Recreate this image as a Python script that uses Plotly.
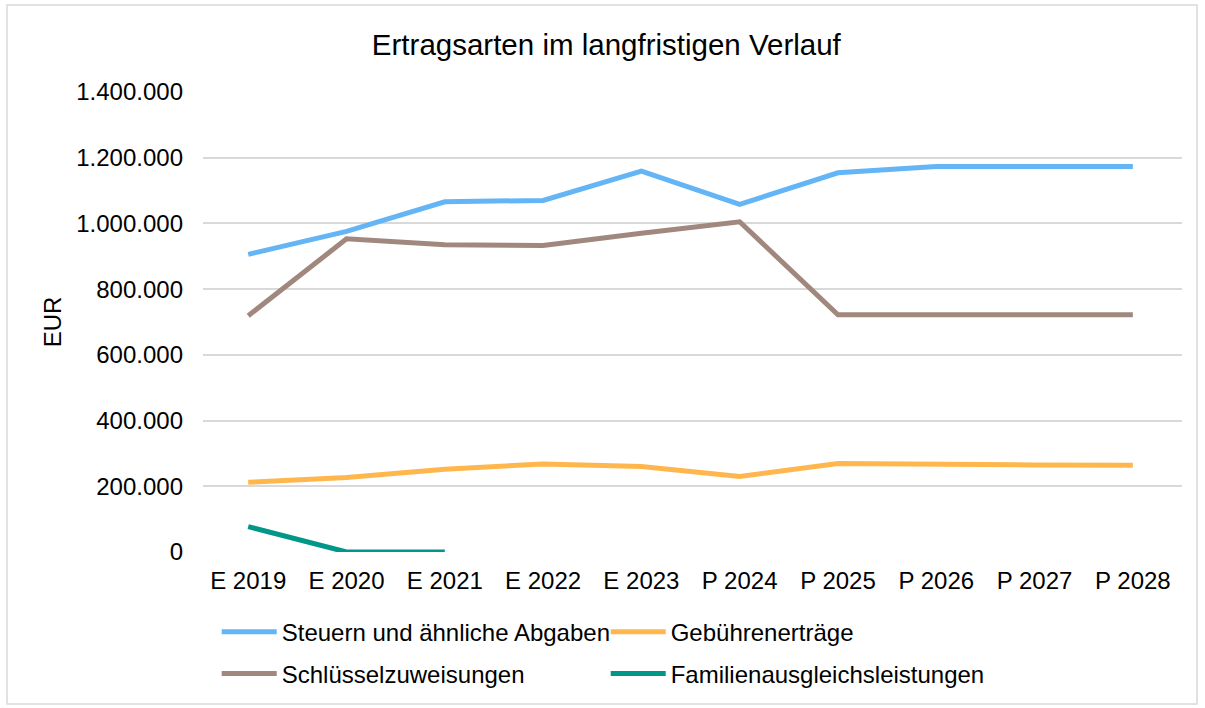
import plotly.graph_objects as go

categories = ["E 2019", "E 2020", "E 2021", "E 2022", "E 2023",
              "P 2024", "P 2025", "P 2026", "P 2027", "P 2028"]
steuern = [906000, 976000, 1066000, 1070000, 1159000, 1058000, 1154000, 1173000, 1173000, 1173000]
gebuehren = [212000, 227000, 252000, 268000, 260000, 230000, 269000, 266000, 265000, 264000]
schluessel = [719000, 953000, 935000, 933000, 970000, 1005000, 722000, 722000, 722000, 722000]
familien = [77000, 0, 0, None, None, None, None, None, None, None]

FONT = "Liberation Sans, Arial, sans-serif"
fig = go.Figure()

def add(name, y, color, legend):
    fig.add_trace(go.Scatter(x=categories, y=y, name=name, mode="lines",
                             line=dict(color=color, width=5), connectgaps=False,
                             legend=legend))

add("Steuern und ähnliche Abgaben", steuern, "#64B5F6", "legend")
add("Gebührenerträge", gebuehren, "#FFB74D", "legend")
add("Schlüsselzuweisungen", schluessel, "#A1887F", "legend2")
add("Familienausgleichsleistungen", familien, "#009688", "legend2")

leg = dict(orientation="h", xanchor="left", yanchor="middle", x=0.014,
           font=dict(family=FONT, size=24, color="#000000"),
           entrywidth=319, entrywidthmode="pixels", bgcolor="rgba(0,0,0,0)",
           itemwidth=55, traceorder="normal")

fig.update_layout(
    width=1205, height=708,
    margin=dict(l=203, r=23, t=92, b=156),
    paper_bgcolor="white", plot_bgcolor="white",
    separators=",.",
    font=dict(family=FONT, size=24, color="#000000"),
    title=dict(text="Ertragsarten im langfristigen Verlauf", x=0.412, xref="paper",
               xanchor="center", y=1 - 45 / 708, yanchor="middle",
               font=dict(family=FONT, size=29.5, color="#000000")),
    legend=dict(leg, y=-0.174),
    legend2=dict(leg, y=-0.265),
    xaxis=dict(type="category", range=[-0.46, 9.5], showgrid=False, showline=False,
               ticks="", tickfont=dict(size=24), ticklabelstandoff=12, zeroline=False),
    yaxis=dict(range=[0, 1400000], dtick=200000, tickformat=",.0f",
               showgrid=True, gridcolor="#D9D9D9", gridwidth=1.5,
               zeroline=False, showline=False, ticks="",
               tickfont=dict(size=24), ticklabelstandoff=19,
               title=dict(text="EUR", font=dict(size=24), standoff=7)),
    shapes=[dict(type="rect", xref="paper", yref="paper",
                 x0=(7 - 203) / 979, x1=(1197 - 203) / 979,
                 y0=(552 - 704) / 460, y1=(552 - 5) / 460,
                 line=dict(color="#D9D9D9", width=1.5), fillcolor="rgba(0,0,0,0)",
                 layer="below")],
)

fig.write_html("out.html", config={"displayModeBar": False},
               post_script="document.body.style.margin='0';document.body.style.overflow='hidden';")
